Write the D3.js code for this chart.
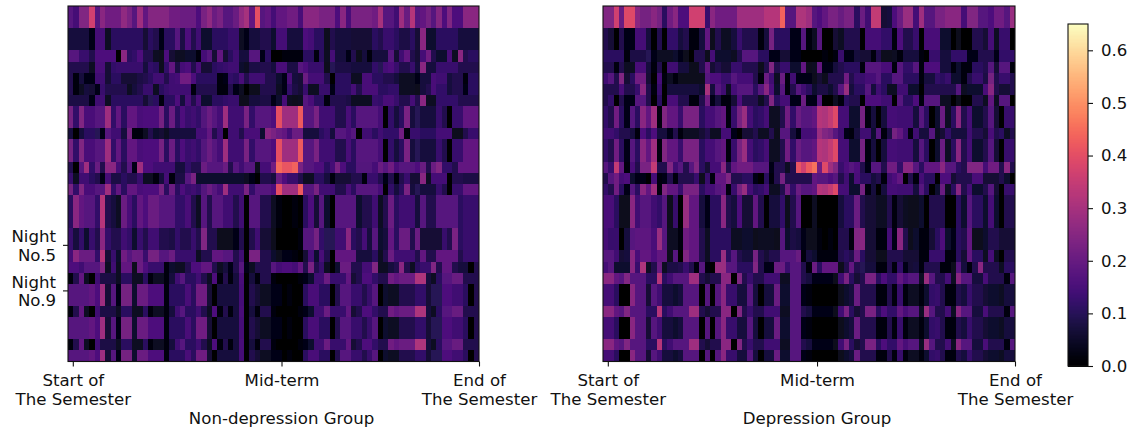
<!DOCTYPE html>
<html><head><meta charset="utf-8">
<script src="https://cdn.jsdelivr.net/npm/d3@7"></script>
<style>html,body{margin:0;padding:0;background:#fff}svg{display:block}text{font-family:"DejaVu Sans";fill:#111}</style>
</head><body><svg id="c" width="1133" height="433"></svg>
<script>
// Values, one list per distinct row profile, 77 columns; units are read levels, see levelToValue.
const LA=[20,16,28,28,40,20,30,25,25,25,31,27,20,33,22,29,29,29,29,25,25,24,24,24,18,27,31,24,27,20,20,24,31,34,22,43,20,22,16,22,22,25,25,17,30,30,30,27,27,27,18,30,17,27,27,27,27,25,34,20,20,15,33,23,36,20,22,26,20,29,18,28,18,18,30,30,30];
const LB=[8,8,8,8,3,16,16,5,12,12,12,12,12,12,7,12,10,3,12,12,20,9,18,10,15,6,6,12,12,12,14,14,5,3,8,8,10,10,6,16,16,8,8,8,18,16,12,12,4,10,8,8,8,7,7,7,7,12,10,14,14,12,9,9,12,7,30,6,6,12,12,12,12,8,8,8,8];
const LC=[20,20,14,14,10,18,18,18,18,0,30,12,13,18,10,10,5,4,18,7,5,5,6,6,2,16,20,7,22,7,12,15,8,8,20,20,3,12,0,0,1,1,1,2,12,12,1,12,5,16,8,8,3,10,4,8,2,8,8,8,20,7,15,22,10,7,16,25,10,6,6,17,5,30,10,12,12];
const LD=[10,10,10,10,5,17,17,7,13,14,14,14,14,14,8,13,12,4,13,22,9,16,18,10,17,7,7,12,13,14,15,15,6,5,9,9,10,10,8,17,17,9,9,20,18,14,14,14,4,11,9,9,9,8,8,8,8,13,11,16,18,14,10,10,14,8,30,8,8,14,14,14,14,10,10,10,10];
const LE=[10,2,8,3,3,15,15,7,12,12,7,7,7,9,10,12,15,15,10,15,16,25,25,18,12,12,12,12,2,3,13,12,17,10,15,15,15,10,10,6,3,17,8,7,24,16,16,16,10,0,12,12,12,5,5,17,17,12,12,10,10,8,5,5,5,3,8,8,17,15,15,8,10,10,2,12,12];
const LF=[10,2,5,8,7,3,14,10,10,10,10,5,8,10,14,14,5,12,14,15,15,15,15,1,10,10,10,10,1,2,10,3,5,0,4,4,10,10,10,5,3,13,9,7,14,5,5,14,14,3,12,12,12,16,10,17,17,17,12,12,13,13,5,5,5,4,8,10,17,13,13,8,10,10,3,12,12];
const LG=[9,9,9,9,3,15,15,5,12,12,12,12,12,12,7,11,12,2,12,12,18,8,17,10,17,6,6,12,12,13,14,14,4,4,8,8,9,9,3,6,16,5,4,5,20,17,12,12,2,10,10,10,9,5,5,5,5,14,13,17,17,14,10,10,16,10,30,5,5,13,13,13,13,10,10,10,10];
const LH=[26,13,28,17,17,20,20,33,13,22,12,22,22,17,18,18,18,26,12,24,12,18,14,15,13,19,24,20,16,33,15,15,15,27,13,20,20,20,18,43,33,33,33,45,20,20,27,15,15,15,10,10,17,12,20,20,20,20,16,0,13,8,12,27,8,11,8,8,8,14,10,0,14,14,22,22,22];
const LI=[8,0,8,12,12,11,3,20,15,15,8,26,1,2,5,10,6,7,5,8,8,8,8,8,16,16,22,10,15,0,15,15,10,17,17,17,6,30,27,24,22,16,24,24,8,8,8,12,14,8,20,20,17,20,0,15,15,12,15,13,13,13,25,2,14,14,12,12,12,16,16,16,4,4,10,14,14];
const LJ=[10,0,20,33,13,23,10,30,30,16,10,20,3,33,18,18,15,15,15,15,8,8,13,10,10,24,20,20,20,24,10,20,15,20,20,4,16,16,25,47,44,44,46,27,20,20,18,18,12,16,27,18,12,12,19,19,19,16,24,20,25,17,20,20,20,18,23,10,24,28,13,13,10,22,22,22,22];
const LK=[14,5,15,15,12,10,3,16,9,9,12,10,10,14,5,5,1,8,16,2,9,9,20,27,6,6,6,6,6,6,6,6,6,5,3,0,10,10,8,24,18,14,14,10,5,5,12,12,8,2,7,7,7,10,10,2,14,14,10,3,10,1,10,14,7,7,30,5,16,16,16,0,10,10,9,9,9];
const LL=[12,30,22,20,20,13,36,10,8,5,24,17,12,22,18,24,24,20,20,20,13,13,17,10,5,20,10,20,20,15,15,10,15,0,20,20,10,10,5,1,0,0,1,0,12,18,7,20,6,0,20,20,20,20,6,10,10,15,5,10,24,12,15,15,15,8,20,10,10,20,20,20,20,12,14,14,14];
const LM=[14,8,13,6,14,10,30,13,10,10,15,13,6,14,10,15,15,10,10,9,13,10,10,14,10,28,10,10,4,4,4,3,10,0,10,15,7,7,4,0,0,0,0,1,20,20,26,13,11,11,15,15,30,12,10,16,8,20,6,8,22,12,24,24,10,24,7,7,7,7,14,10,27,12,14,14,14];
const LN=[16,30,24,24,24,13,36,7,14,6,25,20,24,23,14,26,26,20,20,24,14,14,14,14,5,10,10,22,22,20,20,10,15,0,27,27,10,10,6,4,3,3,1,0,7,16,6,17,10,0,22,22,22,22,8,8,8,12,5,10,24,15,15,15,15,10,22,10,10,22,22,22,22,10,14,14,14];
const LO=[18,18,15,20,20,20,28,5,15,5,22,22,4,24,18,14,14,14,2,6,5,5,10,18,18,22,22,10,5,8,3,10,20,3,5,10,10,10,20,16,18,18,16,22,10,27,10,14,5,0,6,24,24,10,10,16,16,28,5,5,8,10,30,10,5,12,14,14,28,10,22,22,10,8,8,0,10];
const LP=[1,10,22,5,0,15,9,9,9,5,12,12,5,5,12,2,5,5,2,8,15,20,12,12,15,10,5,18,1,10,2,8,17,0,8,2,10,10,2,0,0,0,0,1,3,6,15,15,24,14,14,14,22,7,10,18,18,13,10,10,25,22,24,24,24,35,35,8,5,12,20,20,23,23,10,10,10];
const LQ=[20,20,20,20,22,18,33,7,20,3,26,26,6,24,24,18,18,18,2,12,12,12,17,12,25,25,7,0,8,8,8,8,16,0,10,7,5,5,3,3,0,1,0,0,12,17,17,12,12,0,10,20,20,14,14,10,14,20,0,6,5,5,10,10,10,13,13,7,11,11,18,18,15,15,12,0,10];
const leftRows=[LA,LA,LB,LB,LC,LD,LE,LF,LG,LH,LH,LI,LH,LH,LJ,LK,LH,LL,LL,LL,LM,LM,LN,LO,LP,LQ,LQ,LP,LQ,LQ,LP,LQ];

const RA=[28,28,40,24,42,42,30,26,26,30,26,12,25,30,18,18,40,40,40,14,30,25,25,25,25,33,33,33,33,33,36,36,36,46,20,20,35,35,33,20,18,22,27,27,23,27,27,12,24,15,38,38,7,8,18,24,32,32,16,33,20,20,27,27,30,30,30,16,28,28,20,20,18,25,25,20,32];
const RB=[10,7,0,10,3,3,16,16,8,0,10,0,13,13,8,10,2,2,8,22,4,10,5,5,8,14,10,10,10,2,8,26,12,12,12,3,3,20,2,5,20,0,0,7,5,10,10,10,0,16,16,16,13,13,1,18,10,10,14,0,17,17,17,6,6,0,4,0,0,10,10,7,16,5,14,14,0];
const RC=[12,12,12,12,1,9,9,9,11,3,5,5,5,6,3,4,0,10,10,4,16,6,6,6,5,10,20,20,20,12,12,3,3,7,7,3,3,0,0,0,0,1,0,1,14,3,3,8,7,7,1,10,4,4,5,1,8,8,8,2,0,14,14,8,8,13,13,13,3,3,10,10,10,3,13,13,13];
const RD=[10,10,1,10,5,5,17,17,8,2,10,0,15,15,8,8,4,4,10,22,7,10,7,7,14,14,10,10,10,4,10,28,10,14,14,6,6,22,4,5,22,3,3,8,10,12,12,12,1,20,20,20,17,17,2,20,13,13,20,1,18,18,18,8,8,1,6,2,2,12,12,10,20,7,20,20,2];
const RE=[15,20,10,28,7,12,25,25,7,0,16,2,5,2,4,4,4,4,4,20,18,18,14,14,20,16,16,16,10,2,24,15,5,24,2,15,3,3,3,4,7,4,10,10,10,25,10,14,14,16,16,20,12,12,20,20,12,12,12,1,8,8,13,12,14,6,6,2,10,14,14,9,26,10,14,14,10];
const RF=[10,10,10,17,10,10,14,30,10,2,14,0,8,8,8,8,8,8,6,34,8,20,15,5,16,20,20,20,12,20,30,18,6,20,2,10,20,15,12,6,9,9,6,10,20,32,8,12,12,20,8,15,12,5,5,15,15,6,6,0,10,10,10,10,10,10,20,5,6,6,6,17,30,10,7,7,10];
const RG=[10,13,0,10,3,3,20,20,10,0,12,0,17,17,10,10,1,1,10,25,3,8,1,1,7,18,10,10,10,5,10,28,12,16,16,3,3,24,3,3,20,0,0,5,2,12,10,10,0,18,18,18,15,15,0,20,12,12,18,1,20,20,20,5,5,0,4,0,0,10,10,5,22,5,20,20,0];
const RH=[13,10,25,12,3,20,12,30,22,33,1,28,22,22,14,27,27,27,12,16,16,20,22,2,14,26,32,16,12,13,16,5,5,10,25,13,24,20,20,22,36,35,38,42,16,16,6,6,26,2,8,0,8,16,16,15,15,15,8,20,12,0,6,24,5,12,30,10,16,6,6,10,20,7,0,14,14];
const RI=[15,15,13,10,10,8,2,18,12,18,8,8,3,10,2,5,5,5,7,10,5,5,16,16,3,0,7,7,10,5,5,10,4,20,20,8,3,16,16,17,32,28,26,20,15,3,1,8,15,15,6,20,2,9,26,22,15,1,15,8,8,20,5,7,13,8,8,8,15,10,10,7,17,10,12,5,10];
const RJ=[20,14,38,22,1,17,10,27,27,38,10,10,28,15,20,10,20,28,12,7,16,16,30,10,22,25,25,25,20,20,20,3,10,10,5,10,44,40,45,48,25,42,33,28,14,18,20,18,10,3,20,20,10,25,25,13,30,30,20,12,22,22,22,30,20,20,12,10,28,28,28,16,25,25,10,30,10];
const RK=[10,20,25,16,18,6,3,3,0,16,2,3,10,2,10,10,10,14,4,14,2,22,22,28,10,10,12,12,3,0,12,1,10,26,10,10,10,10,10,22,20,20,18,20,10,15,6,17,12,12,8,10,2,15,18,22,0,10,1,16,12,12,0,18,18,7,10,10,10,17,17,7,7,7,10,6,0];
const RL=[17,17,12,4,4,30,15,20,20,15,13,20,4,14,0,32,22,22,8,3,12,12,30,10,8,18,7,7,22,10,0,8,8,13,4,10,20,0,0,5,0,0,0,0,8,12,12,24,10,7,7,5,5,10,2,7,5,4,4,6,0,10,10,10,0,0,12,6,20,12,12,6,16,6,0,10,10];
const RM=[16,14,14,0,8,20,21,21,21,17,32,20,5,5,2,25,22,22,10,5,12,12,12,12,5,5,6,6,4,5,5,5,4,20,6,9,8,3,4,4,1,0,1,0,10,10,2,28,30,7,7,2,2,16,3,30,10,4,6,2,1,7,12,18,6,3,12,10,22,4,4,6,10,10,7,7,7];
const RN=[20,20,15,7,8,30,17,22,22,18,22,22,4,20,0,28,22,22,10,5,12,12,32,12,20,10,8,8,26,10,7,10,10,20,20,20,23,2,8,6,1,1,1,1,10,12,10,24,12,7,7,4,4,10,10,10,7,7,7,2,1,14,14,14,1,1,12,7,22,12,12,5,16,5,0,10,10];
const RO=[16,20,6,6,6,30,14,35,5,10,24,5,9,9,10,14,10,2,20,1,0,32,32,20,20,12,12,12,28,10,3,3,24,24,14,20,20,10,1,24,12,22,22,22,4,10,22,10,11,8,8,1,1,10,2,13,3,7,8,2,10,10,10,2,2,4,20,8,2,10,30,10,10,10,5,12,12];
const RP=[30,30,22,20,28,20,20,20,12,12,36,12,15,20,20,20,33,33,10,7,10,10,30,30,0,28,10,14,10,10,15,15,15,5,5,20,20,10,8,3,3,3,3,4,15,27,12,7,10,27,27,12,18,13,13,22,17,20,20,5,32,20,10,10,16,5,30,20,20,8,8,17,10,10,10,2,20];
const RQ=[16,16,12,0,0,30,20,20,7,20,15,8,8,6,8,20,20,20,0,20,0,20,30,14,14,8,8,20,8,0,8,8,24,6,6,20,20,3,1,0,0,0,0,0,4,6,8,24,10,10,10,1,1,10,2,14,2,5,5,1,6,13,14,10,1,1,10,8,14,10,10,7,6,6,5,8,8];
const rightRows=[RA,RA,RB,RB,RC,RD,RE,RF,RG,RH,RH,RI,RH,RH,RJ,RK,RH,RL,RL,RL,RM,RM,RN,RO,RP,RQ,RQ,RP,RQ,RQ,RP,RQ];

const startLabel=["Start of","The Semester"], midLabel=["Mid-term"], endLabel=["End of","The Semester"];
const xTickValues=[0.9,40,77], yTickValues=[21.5,25.6];
const yTickLabels=[["Night","No.5"],["Night","No.9"]];
const colorTicks=[0,0.1,0.2,0.3,0.4,0.5,0.6];
const panels=[{x0:68,x1:479,rows:leftRows,title:"Non-depression Group"},{x0:603,x1:1015,rows:rightRows,title:"Depression Group"}];

const svg=d3.select("#c");
const FS=16.6, plotTop=6, plotBottom=361.5;
const color=d3.scaleSequential(d3.interpolateMagma).domain([0,0.65]);
// calibration of my read levels against the colour bar
const levelToValue=d3.scaleLinear().domain([0,15,30,50]).range([0,0.135,0.255,0.48]);
const yBand=d3.scaleBand().domain(d3.range(32)).range([plotTop,plotBottom]);
const defs=svg.append("defs");
defs.append("filter").attr("id","soft").attr("x","-2%").attr("y","-2%").attr("width","104%").attr("height","104%")
  .append("feGaussianBlur").attr("stdDeviation",0.75);

panels.forEach((p,pi)=>{
  const xBand=d3.scaleBand().domain(d3.range(77)).range([p.x0,p.x1]);
  defs.append("clipPath").attr("id","clip"+pi).append("rect").attr("x",p.x0).attr("y",plotTop).attr("width",p.x1-p.x0).attr("height",plotBottom-plotTop);
  const clip=svg.append("g").attr("clip-path",`url(#clip${pi})`);
  clip.append("rect").attr("x",p.x0).attr("y",plotTop).attr("width",p.x1-p.x0).attr("height",plotBottom-plotTop).attr("fill",color(.12));
  const g=clip.append("g").attr("filter","url(#soft)").attr("shape-rendering","crispEdges");
  g.selectAll("g").data(p.rows).join("g").attr("transform",(d,i)=>`translate(0,${yBand(i)})`)
    .selectAll("rect").data(d=>d).join("rect")
    .attr("x",(d,i)=>xBand(i)).attr("width",xBand.bandwidth()+.4).attr("height",yBand.bandwidth()+.4)
    .attr("fill",d=>color(levelToValue(d)));
  svg.append("rect").attr("x",p.x0).attr("y",plotTop).attr("width",p.x1-p.x0).attr("height",plotBottom-plotTop)
    .attr("fill","none").attr("stroke","#111").attr("stroke-width",1.1);
  const xL=d3.scaleLinear().domain([0,77]).range([p.x0,p.x1]);
  const labels=[startLabel,midLabel,endLabel];
  const ax=svg.append("g").attr("transform",`translate(0,${plotBottom})`)
    .call(d3.axisBottom(xL).tickValues(xTickValues).tickSize(5).tickFormat(""));
  ax.select(".domain").remove();
  ax.selectAll("line").attr("stroke","#111").attr("stroke-width",1.1);
  ax.selectAll(".tick").each(function(d,i){
    const t=d3.select(this).select("text").attr("y",0).attr("dy",null).attr("font-size",FS).attr("fill","#111").attr("font-family","DejaVu Sans");
    t.selectAll("tspan").data(labels[i]).join("tspan").attr("x",0).attr("y",(s,j)=>24+j*19).text(s=>s);
  });
  svg.append("text").attr("x",xL(40)).attr("y",424).attr("text-anchor","middle").attr("font-size",FS).text(p.title);
  if(pi===0){
    const yL=d3.scaleLinear().domain([0,32]).range([plotTop,plotBottom]);
    const ay=svg.append("g").attr("transform",`translate(${p.x0},0)`)
      .call(d3.axisLeft(yL).tickValues(yTickValues).tickSize(5).tickFormat(""));
    ay.select(".domain").remove();
    ay.selectAll("line").attr("stroke","#111").attr("stroke-width",1.1);
    ay.selectAll(".tick").each(function(d,i){
      const t=d3.select(this).select("text").attr("x",null).attr("dy",null).attr("text-anchor","end").attr("font-size",FS).attr("fill","#111").attr("font-family","DejaVu Sans");
      t.selectAll("tspan").data(yTickLabels[i]).join("tspan").attr("x",-12).attr("y",(s,j)=>-3+j*18.5).text(s=>s);
    });
  }
});

// colour bar
const cbx=1068,cbw=20,cbTop=24,cbBottom=366;
const yC=d3.scaleLinear().domain([0,0.65]).range([cbBottom,cbTop]);
const steps=d3.range(0,0.65,0.0025);
svg.append("g").attr("shape-rendering","crispEdges").selectAll("rect").data(steps).join("rect")
  .attr("x",cbx).attr("width",cbw).attr("y",d=>yC(d+0.0025)).attr("height",d=>yC(d)-yC(d+0.0025)+.5).attr("fill",d=>color(d));
svg.append("rect").attr("x",cbx).attr("y",cbTop).attr("width",cbw).attr("height",cbBottom-cbTop).attr("fill","none").attr("stroke","#111").attr("stroke-width",1.1);
const ac=svg.append("g").attr("transform",`translate(${cbx+cbw},0)`)
  .call(d3.axisRight(yC).tickValues(colorTicks).tickSize(5).tickFormat(d3.format(".1f")));
ac.select(".domain").remove();
ac.selectAll("line").attr("stroke","#111").attr("stroke-width",1.1);
ac.selectAll("text").attr("font-size",FS).attr("fill","#111").attr("font-family","DejaVu Sans").attr("x",13);
</script></body></html>
